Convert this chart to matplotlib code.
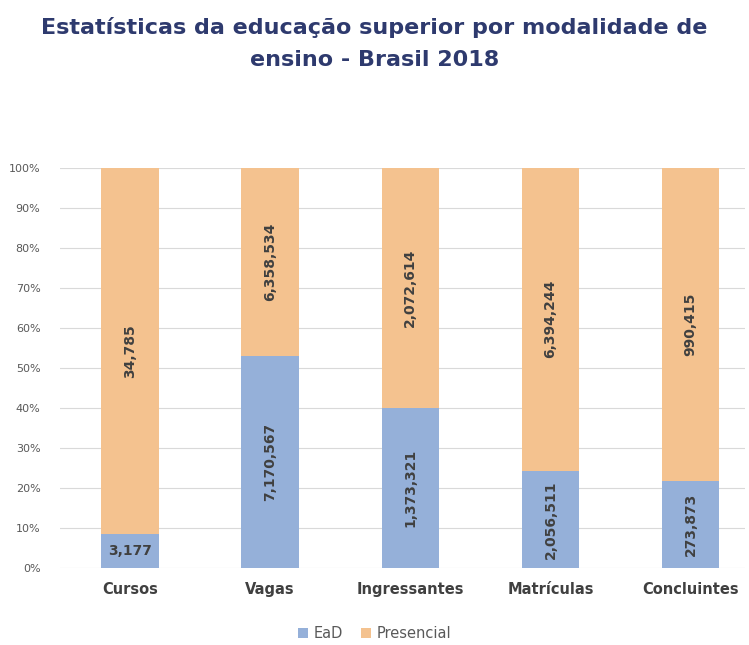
import matplotlib.pyplot as plt
from matplotlib.ticker import PercentFormatter

categories = ["Cursos", "Vagas", "Ingressantes", "Matrículas", "Concluintes"]
ead = [3177, 7170567, 1373321, 2056511, 273873]
presencial = [34785, 6358534, 2072614, 6394244, 990415]

totals = [a + b for a, b in zip(ead, presencial)]
ead_pct = [a / t * 100 for a, t in zip(ead, totals)]
pres_pct = [b / t * 100 for b, t in zip(presencial, totals)]

c_ead = "#95b0d9"
c_pres = "#f4c28f"
txt = "#404040"

fig = plt.figure(figsize=(7.49, 6.45), dpi=100)
ax = fig.add_axes([0.08, 0.1194, 0.915, 0.6205])

x = range(len(categories))
width = 0.41
b1 = ax.bar(x, ead_pct, width, color=c_ead, label="EaD", zorder=3)
b2 = ax.bar(x, pres_pct, width, bottom=ead_pct, color=c_pres, label="Presencial", zorder=3)

for i in x:
    # EaD label (horizontal when the segment is too short)
    y = ead_pct[i] / 2
    rot = 0 if ead_pct[i] < 15 else 90
    ax.text(i, y, f"{ead[i]:,}", ha="center", va="center", fontsize=10,
            fontweight="bold", color=txt, rotation=rot, zorder=4)
    y = ead_pct[i] + pres_pct[i] / 2
    ax.text(i, y, f"{presencial[i]:,}", ha="center", va="center", fontsize=10,
            fontweight="bold", color=txt, rotation=90, zorder=4)

ax.set_ylim(0, 100)
ax.set_xlim(-0.5, 4.39)
ax.set_yticks(range(0, 101, 10))
ax.yaxis.set_major_formatter(PercentFormatter(decimals=0))
ax.grid(axis="y", color="#d9d9d9", linewidth=0.8, zorder=0)
ax.set_xticks(list(x))
ax.set_xticklabels(categories, fontsize=10.5, fontweight="bold", color=txt)
ax.tick_params(axis="y", labelsize=8, colors="#595959", length=0, pad=14)
ax.tick_params(axis="x", length=0, pad=10)
for s in ax.spines.values():
    s.set_visible(False)

fig.text(0.5, 0.973, "Estatísticas da educação superior por modalidade de\nensino - Brasil 2018",
         ha="center", va="top", fontsize=16, fontweight="bold", color="#2e3a6e",
         linespacing=1.75)

fig.legend(handles=[b1, b2], loc="center", bbox_to_anchor=(0.5, 0.018), ncol=2,
           frameon=False, fontsize=10.5, handlelength=0.7, handleheight=0.7,
           columnspacing=1.2, handletextpad=0.4, labelcolor="#595959")

fig.savefig("out.png", dpi=100)
